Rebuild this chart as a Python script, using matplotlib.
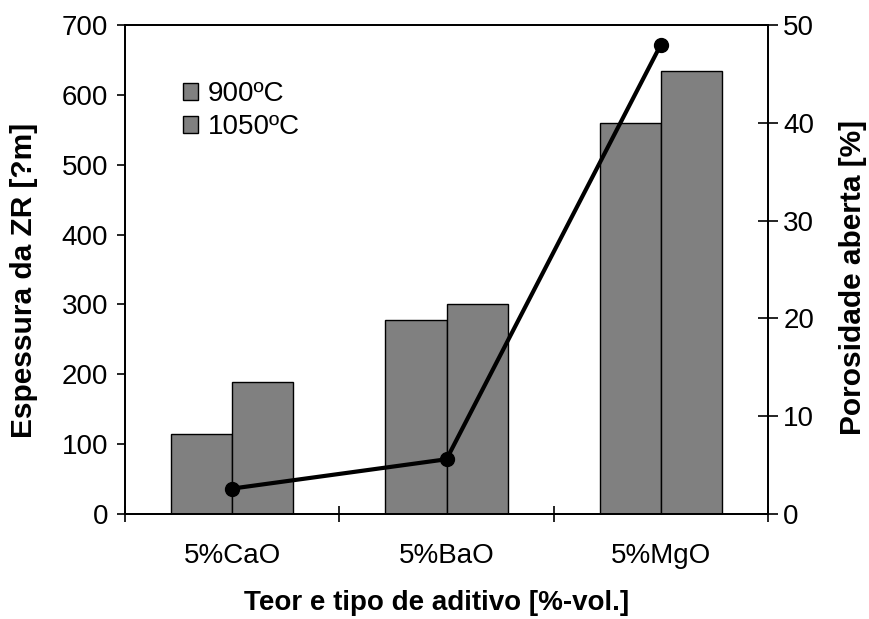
import matplotlib
matplotlib.use("Agg")
import matplotlib.pyplot as plt
import numpy as np

plt.rcParams['font.family'] = ['Liberation Sans', 'DejaVu Sans']

categories = ['5%CaO', '5%BaO', '5%MgO']
thickness_900 = [115, 278, 560]
thickness_1050 = [189, 301, 634]
porosity = [2.6, 5.6, 48.0]

fig = plt.figure(figsize=(8.7, 6.19), dpi=100)
ax = fig.add_axes([0.1437, 0.1696, 0.7391, 0.79])
x = np.arange(len(categories))
w = 0.285

ax.bar(x - w / 2, thickness_900, width=w, color='#808080', edgecolor='black',
       linewidth=1.0, label='900ºC')
ax.bar(x + w / 2, thickness_1050, width=w, color='#808080', edgecolor='black',
       linewidth=1.0, label='1050ºC')

ax.set_xlim(-0.5, 2.5)
ax.set_ylim(0, 700)
ax.set_yticks(range(0, 701, 100))
ax.set_xticks(x)
ax.set_xticklabels(categories)
ax.set_xticks([-0.5, 0.5, 1.5, 2.5], minor=True)
ax.tick_params(axis='x', which='major', length=0, labelsize=20, pad=21)
ax.tick_params(axis='x', which='minor', direction='inout', length=12, width=1.2)
ax.tick_params(axis='y', direction='out', length=6, width=1.2, labelsize=20, pad=6)
for s in ax.spines.values():
    s.set_linewidth(1.3)
ax.set_ylabel('Espessura da ZR [?m]', fontsize=21.5, fontweight='bold')
ax.yaxis.set_label_coords(-0.1353, 0.478)
ax.set_xlabel('Teor e tipo de aditivo [%-vol.]', fontsize=20, fontweight='bold', labelpad=18)
ax.xaxis.set_label_coords(0.484, -0.155)
ax.xaxis.label.set_verticalalignment('top')

ax2 = ax.twinx()
ax2.plot(x, porosity, color='black', linewidth=3, marker='o', markersize=10)
ax2.set_ylim(0, 50)
ax2.set_yticks(range(0, 51, 10))
ax2.tick_params(axis='y', direction='inout', length=14, width=1.2, labelsize=20, pad=4)
ax2.set_ylabel('Porosidade aberta [%]', fontsize=21.5, fontweight='bold')
ax2.yaxis.set_label_coords(1.110, 0.483)
for s in ax2.spines.values():
    s.set_linewidth(1.3)

leg = ax.legend(loc='upper left', bbox_to_anchor=(0.09, 0.885), frameon=False,
                fontsize=20, handlelength=0.55, handleheight=0.55,
                handletextpad=0.35, labelspacing=0.25, borderaxespad=0,
                borderpad=0)

fig.savefig('out.png', dpi=100)
